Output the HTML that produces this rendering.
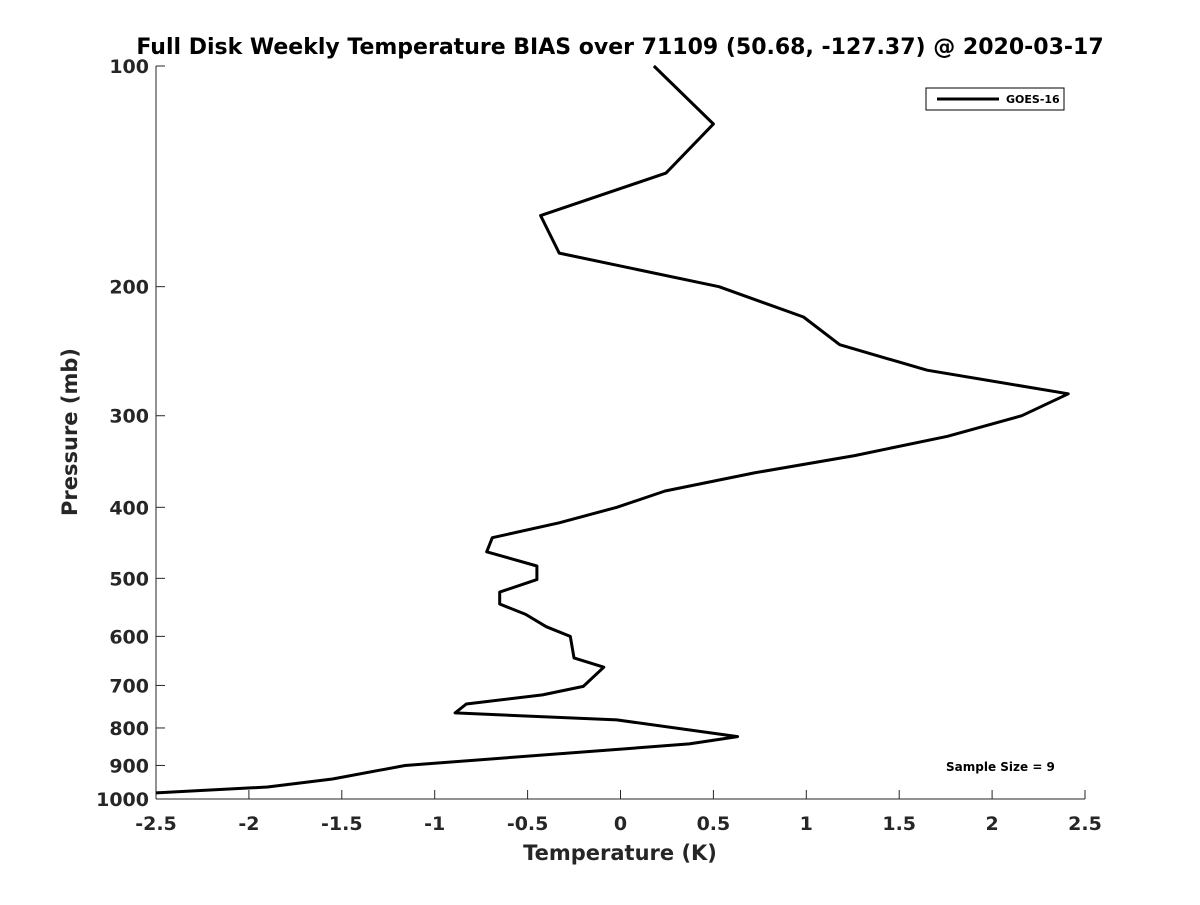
<!DOCTYPE html>
<html><head><meta charset="utf-8"><style>
body{margin:0;background:#fff;}
svg text{font-family:"DejaVu Sans","Liberation Sans",sans-serif;font-weight:bold;fill:#262626;}
</style></head><body>
<svg id="chart" width="1200" height="900" xmlns="http://www.w3.org/2000/svg">
<text x="620" y="54" text-anchor="middle" font-size="22" style="fill:#000">Full Disk Weekly Temperature BIAS over 71109 (50.68, -127.37) @ 2020-03-17</text>
<g id="axes"></g>
<polyline id="series" fill="none" stroke="#000" stroke-width="3" stroke-linejoin="round"></polyline>
<g>
<rect x="926" y="88" width="138" height="22" fill="#fff" stroke="#000" stroke-width="1"/>
<line x1="937" y1="99" x2="999" y2="99" stroke="#000" stroke-width="3"/>
<text x="1006" y="103" font-size="11" style="fill:#000">GOES-16</text>
</g>
<text x="946" y="771" font-size="12" style="fill:#000">Sample Size = 9</text>
<text x="620" y="860" text-anchor="middle" font-size="21">Temperature (K)</text>
<text transform="translate(77,432) rotate(-90)" text-anchor="middle" font-size="21">Pressure (mb)</text>
</svg>
<script>
const pressures=[100,120,140,160,180,200,220,240,260,280,300,320,340,359,380,400,420,440,460,481,502,522,542,560,582,600,642,661,702,721,742,763,780,822,841,900,939,963,981];
const temps=[0.18,0.50,0.245,-0.43,-0.33,0.53,0.985,1.18,1.65,2.41,2.16,1.76,1.26,0.72,0.24,-0.02,-0.33,-0.69,-0.72,-0.45,-0.45,-0.65,-0.65,-0.51,-0.40,-0.27,-0.25,-0.09,-0.20,-0.42,-0.83,-0.89,-0.02,0.63,0.37,-1.16,-1.55,-1.90,-2.5];
const xTicks=[-2.5,-2,-1.5,-1,-0.5,0,0.5,1,1.5,2,2.5];
const xTickLabels=["-2.5","-2","-1.5","-1","-0.5","0","0.5","1","1.5","2","2.5"];
const yTicks=[100,200,300,400,500,600,700,800,900,1000];
const yTickLabels=["100","200","300","400","500","600","700","800","900","1000"];
const L=156,R=1085,T=66,B=799;
function xs(v){return L+(v+2.5)/5*(R-L);}
function ys(p){return T+Math.log10(p/100)*(B-T);}
const ns="http://www.w3.org/2000/svg";
const ax=document.getElementById('axes');
function mk(tag,attrs,parent){const e=document.createElementNS(ns,tag);for(const k in attrs)e.setAttribute(k,attrs[k]);(parent||ax).appendChild(e);return e;}
const xl=mk('line',{x1:L,y1:B,x2:R,y2:B,stroke:'#262626','stroke-width':1});


const yl=mk('line',{x1:L,y1:T,x2:L,y2:B,stroke:'#262626','stroke-width':1});


xTicks.forEach((v,i)=>{
 const x=xs(v);
 const t=mk('line',{x1:x,y1:B,x2:x,y2:B-9,stroke:'#262626','stroke-width':1});
 
 
 const tx=mk('text',{x:x,y:B+31,'text-anchor':'middle','font-size':19});
 tx.textContent=xTickLabels[i];
 
 
});
yTicks.forEach((p,i)=>{
 const y=ys(p);
 const t=mk('line',{x1:L,y1:y,x2:L+9,y2:y,stroke:'#262626','stroke-width':1});
 
 
 const tx=mk('text',{x:L-7,y:y+7,'text-anchor':'end','font-size':19});
 tx.textContent=yTickLabels[i];
 
 
});
document.getElementById('series').setAttribute('points',temps.map((t,i)=>xs(t).toFixed(1)+','+ys(pressures[i]).toFixed(1)).join(' '));
</script>
</body></html>
